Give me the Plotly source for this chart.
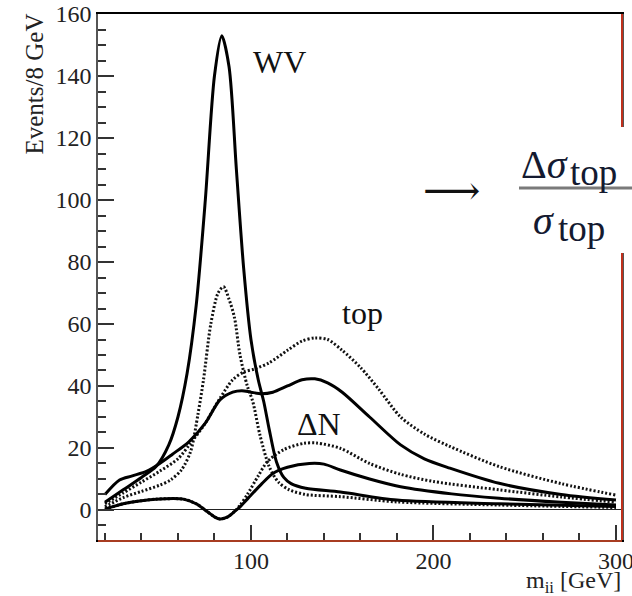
import plotly.graph_objects as go

# ---------------- data ----------------
wv_solid_x = [20, 30, 40, 48, 55, 60, 65, 70, 75, 80, 84, 88, 92, 96, 100, 104, 107, 110, 114, 118, 122, 130, 149, 180, 236, 300]
wv_solid_y = [2.5, 6.5, 10.5, 14, 21, 30, 44, 66, 100, 140, 153, 143, 110, 78, 55, 42, 35, 26, 15.5, 10.5, 8.5, 7, 5.8, 3.2, 2, 1.1]

wv_dot_x = [20, 30, 40, 50, 56, 62, 67, 71, 74, 78, 82, 85, 88, 91, 94, 98, 101, 105, 110, 115, 121, 130, 149, 180, 236, 300]
wv_dot_y = [1, 4, 6, 8, 9.7, 13, 19, 31, 42, 60, 70, 72, 68, 62, 50, 40, 35, 24, 14, 9, 6.5, 5, 4.3, 2.6, 1.6, 0.8]

top_solid_x = [20, 28, 35, 43, 50, 57, 66, 75, 83, 90, 95, 100, 106, 112, 120, 128, 135, 142, 150, 165, 182, 195, 209, 236, 270, 300]
top_solid_y = [5, 9.7, 11, 12.5, 15, 18, 22, 28, 35.5, 38, 38.5, 38, 37.5, 38, 40, 42, 42.3, 41, 38, 30, 21, 16.5, 13.5, 8.6, 5, 3.2]

top_dot_x = [20, 30, 40, 50, 60, 67, 75, 83, 90, 96, 102, 110, 120, 128, 135, 142, 150, 160, 170, 182, 195, 209, 236, 270, 300]
top_dot_y = [2, 5.5, 9, 12.5, 16.5, 21.6, 28, 36, 42, 44.5, 45.5, 47.5, 51.5, 54.5, 55.5, 55, 51.5, 46, 39, 30, 24.5, 20.5, 14, 8.5, 4.8]

dn_solid_x = [20, 30, 40, 48, 63, 70, 76, 80, 83, 87, 91, 94, 98, 106, 112, 120, 132, 140, 149, 165, 182, 210, 236, 270, 300]
dn_solid_y = [0.3, 2, 3, 3.5, 3.5, 2, -0.5, -2.2, -2.9, -2.3, -0.5, 1, 3.5, 8.5, 11.8, 13.8, 15, 14.8, 12.9, 10, 7.5, 5.2, 3.8, 2.5, 1.6]

dn_dot_x = [20, 30, 40, 48, 63, 70, 76, 80, 83, 87, 91, 94, 98, 104, 109, 118, 129, 136, 149, 165, 182, 200, 236, 270, 300]
dn_dot_y = [0.3, 2, 3, 3.5, 3.5, 2, -0.5, -2.2, -2.9, -2.3, -0.5, 1.5, 5, 11, 15.6, 19.5, 21.5, 21.6, 19.9, 15, 11.5, 9.2, 6.5, 4.2, 2.5]

x_range = [16.2, 303.3]
y_range = [-9.68, 160]
x_ticks = [100, 200, 300]
y_ticks = [0, 20, 40, 60, 80, 100, 120, 140, 160]

# ---------------- figure ----------------
SERIF = "Liberation Serif, Times New Roman, serif"
W, H = 632, 596
L, R, T, B = 98, 10, 14, 56
PW, PH = W - L - R, H - T - B


def px(xp):
    return (xp - L) / PW


def py(yp):
    return (H - B - yp) / PH


fig = go.Figure()
solid = dict(color="black", width=3, shape="spline", smoothing=0.8)
dotted = dict(color="#111", width=3, dash="2px,2px", shape="spline", smoothing=0.8)

fig.add_trace(go.Scatter(x=top_dot_x, y=top_dot_y, mode="lines", line=dotted))
fig.add_trace(go.Scatter(x=dn_dot_x, y=dn_dot_y, mode="lines", line=dotted))
fig.add_trace(go.Scatter(x=wv_dot_x, y=wv_dot_y, mode="lines", line=dotted))
fig.add_trace(go.Scatter(x=top_solid_x, y=top_solid_y, mode="lines", line=solid))
fig.add_trace(go.Scatter(x=dn_solid_x, y=dn_solid_y, mode="lines", line=solid))
fig.add_trace(go.Scatter(x=wv_solid_x, y=wv_solid_y, mode="lines", line=solid))

fig.update_layout(
    width=W, height=H,
    margin=dict(l=L, r=R, t=T, b=B, pad=0, autoexpand=False),
    paper_bgcolor="white", plot_bgcolor="white",
    showlegend=False,
    font=dict(family=SERIF, color="#222", size=24),
)
fig.update_xaxes(
    range=x_range, tickvals=x_ticks, ticks="inside", ticklen=15, tickwidth=1.5,
    tickcolor="#333", showgrid=False, zeroline=False, showline=True,
    linecolor="black", linewidth=1.5, mirror=True, automargin=False,
    ticklabeloverflow="allow", ticklabelstandoff=-2,
    minor=dict(dtick=20, tick0=0, ticks="inside", ticklen=7, tickcolor="#333", tickwidth=1.5),
    tickfont=dict(family=SERIF, size=24, color="#222"),
)
fig.update_yaxes(
    range=y_range, tickvals=y_ticks, ticks="inside", ticklen=16, tickwidth=1.5,
    tickcolor="#333", showgrid=False, zeroline=True, zerolinecolor="#222",
    zerolinewidth=1, showline=True, linecolor="#555", linewidth=1.5, mirror=True,
    automargin=False, ticklabeloverflow="allow",
    minor=dict(dtick=5, tick0=0, ticks="inside", ticklen=8, tickcolor="#333", tickwidth=1.5),
    tickfont=dict(family=SERIF, size=24, color="#222"),
)

shapes = [
    # red border on right and bottom
    dict(type="line", xref="paper", yref="paper", x0=1, x1=1, y0=0, y1=1,
         line=dict(color="#c0301c", width=2)),
    dict(type="line", xref="paper", yref="paper", x0=0, x1=1, y0=py(541), y1=py(541),
         line=dict(color="#e0502c", width=1.5)),
    # white box behind the overlay formula
    dict(type="rect", xref="paper", yref="paper", x0=px(415), x1=px(640), y0=py(253), y1=py(127),
         fillcolor="white", line=dict(width=0), layer="above"),
    # fraction bar
    dict(type="line", xref="paper", yref="paper", x0=px(519), x1=px(640), y0=py(188), y1=py(188),
         line=dict(color="#7a7a7a", width=3), layer="above"),
]
fig.update_layout(shapes=shapes)

FC = "#141a30"
ann = [
    dict(text="Events/8 GeV", x=px(34), y=py(12), xref="paper", yref="paper",
         xanchor="center", yanchor="top", textangle=-90, showarrow=False,
         font=dict(family=SERIF, size=25, color="#222")),
    dict(text="m<sub>ii</sub> [GeV]", x=px(623), y=py(599), xref="paper", yref="paper",
         xanchor="right", yanchor="bottom", showarrow=False,
         font=dict(family=SERIF, size=24, color="#222")),
    dict(text="WV", x=px(251), y=py(62), xref="paper", yref="paper",
         xanchor="left", yanchor="middle", showarrow=False,
         font=dict(family=SERIF, size=32, color="#111")),
    dict(text="top", x=px(362), y=py(313), xref="paper", yref="paper",
         xanchor="center", yanchor="middle", showarrow=False,
         font=dict(family=SERIF, size=32, color="#111")),
    dict(text="ΔN", x=px(319), y=py(424), xref="paper", yref="paper",
         xanchor="center", yanchor="middle", showarrow=False,
         font=dict(family=SERIF, size=32, color="#111")),
    dict(text="⟶", x=px(451), y=py(190), xref="paper", yref="paper",
         xanchor="center", yanchor="middle", showarrow=False,
         font=dict(family="DejaVu Serif", size=40, color="#111")),
    # numerator
    dict(text="Δ<i>σ</i>", x=px(519), y=py(165), xref="paper", yref="paper",
         xanchor="left", yanchor="middle", showarrow=False,
         font=dict(family=SERIF, size=40, color=FC)),
    dict(text="top", x=px(568), y=py(172), xref="paper", yref="paper",
         xanchor="left", yanchor="middle", showarrow=False,
         font=dict(family=SERIF, size=37, color=FC)),
    # denominator
    dict(text="<i>σ</i>", x=px(531), y=py(220), xref="paper", yref="paper",
         xanchor="left", yanchor="middle", showarrow=False,
         font=dict(family=SERIF, size=40, color=FC)),
    dict(text="top", x=px(556), y=py(228), xref="paper", yref="paper",
         xanchor="left", yanchor="middle", showarrow=False,
         font=dict(family=SERIF, size=37, color=FC)),
]
fig.update_layout(annotations=ann)

fig.write_html("out.html")
